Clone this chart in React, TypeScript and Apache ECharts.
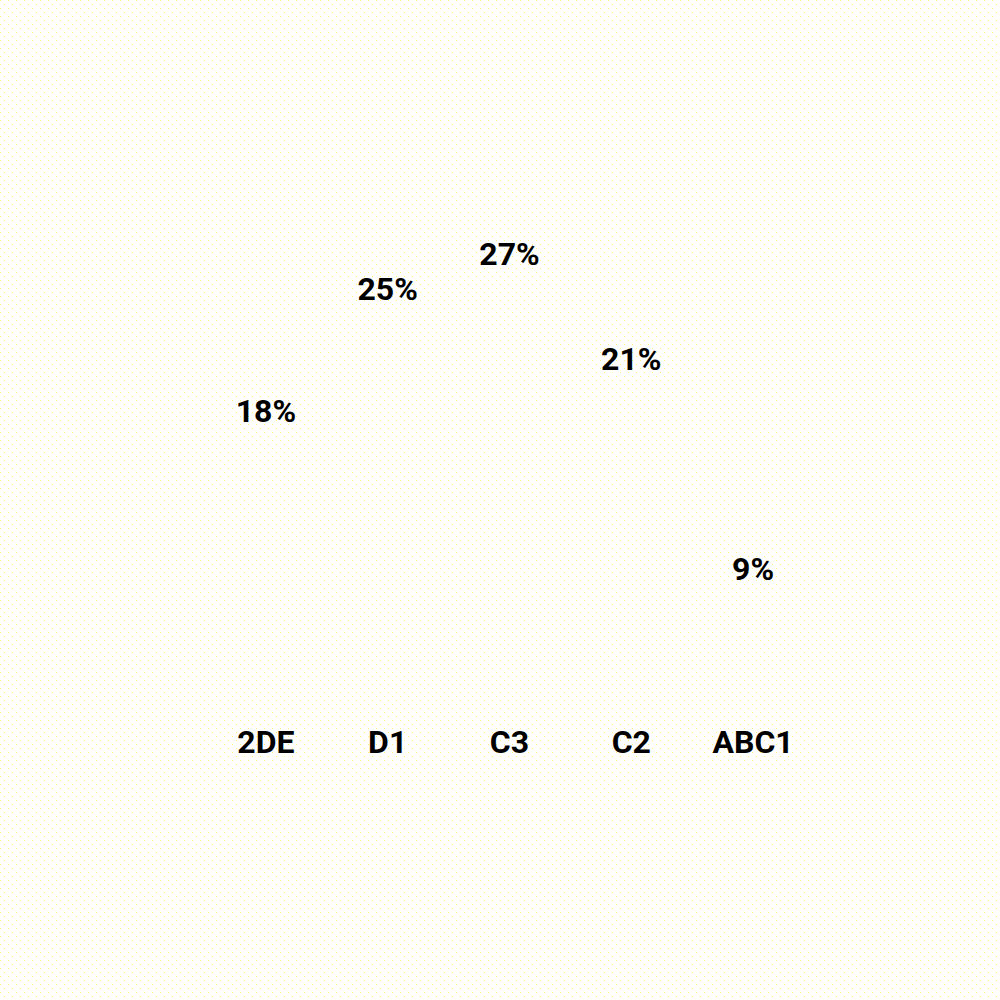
import { useEffect, useRef } from 'react';
import * as echarts from 'echarts';

const categories = ['2DE', 'D1', 'C3', 'C2', 'ABC1'];
const shares = [18, 25, 27, 21, 9];

const FONT = 'Roboto, "DejaVu Sans", sans-serif';

const DOTS =
  "url(\"data:image/svg+xml;utf8,<svg xmlns='http://www.w3.org/2000/svg' width='8' height='8'><rect x='0' y='0' width='1' height='1' fill='%23fff176'/><rect x='4' y='4' width='1' height='1' fill='%23fff176'/></svg>\")";

export default function App() {
  const chartRef = useRef<HTMLDivElement>(null);

  useEffect(() => {
    document.body.style.margin = '0';
    if (!chartRef.current) return;
    const chart = echarts.init(chartRef.current, null, { renderer: 'svg' });

    const option: echarts.EChartsOption = {
      animation: false,
      backgroundColor: 'transparent',
      grid: { left: 205, right: 186, top: 46, bottom: 255 },
      xAxis: {
        type: 'category',
        data: categories,
        axisLine: { show: false, onZero: false },
        axisTick: { show: false },
        axisLabel: {
          color: '#000',
          fontFamily: FONT,
          fontWeight: 'bold',
          fontSize: 32,
          margin: -19,
        },
      },
      yAxis: {
        type: 'value',
        min: 0,
        max: 40,
        show: false,
      },
      series: [
        {
          type: 'bar',
          data: shares,
          barWidth: '60%',
          itemStyle: { color: 'rgba(0,0,0,0)' },
          label: {
            show: true,
            position: 'top',
            formatter: '{c}%',
            color: '#000',
            fontFamily: FONT,
            fontWeight: 'bold',
            fontSize: 32,
            distance: 3,
          },
        },
      ],
    };

    chart.setOption(option);
    return () => chart.dispose();
  }, []);

  return (
    <div
      ref={chartRef}
      style={{
        width: 1000,
        height: 1000,
        backgroundColor: '#fff',
        backgroundImage: DOTS,
        backgroundSize: '8px 8px',
      }}
    />
  );
}
